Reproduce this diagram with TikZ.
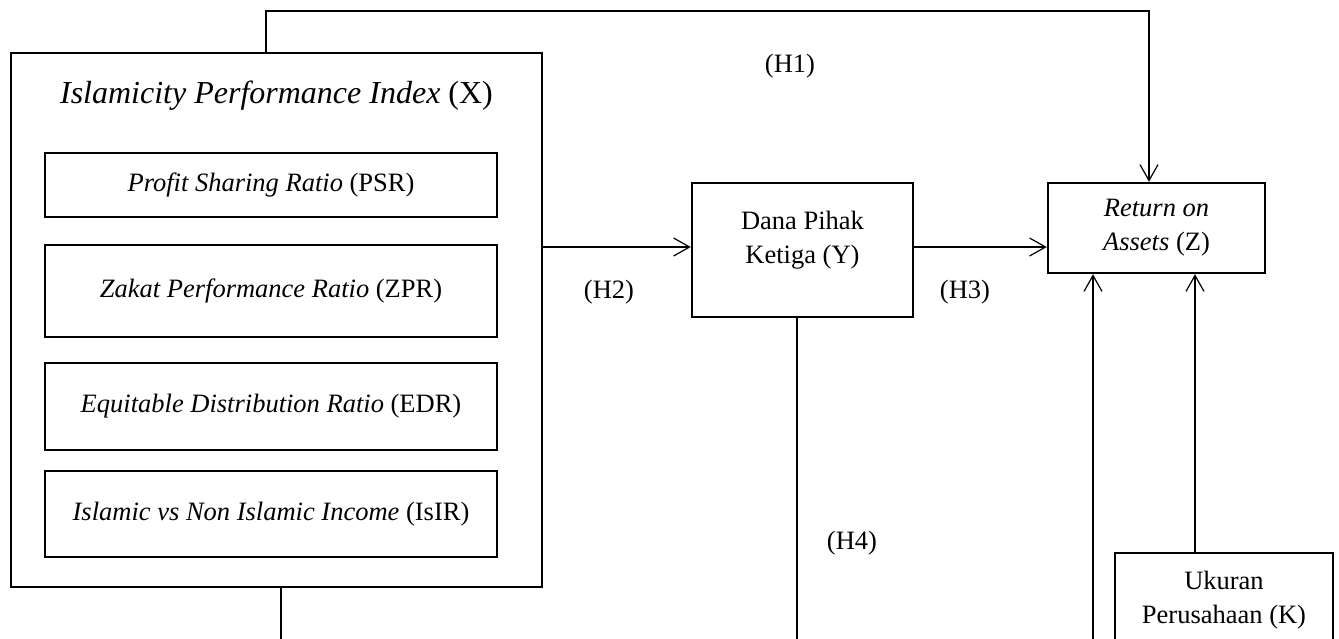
\documentclass[tikz,border=0pt]{standalone}
\usepackage{fontspec}
\setmainfont{Liberation Serif}
\usetikzlibrary{arrows.meta}

\tikzset{
  box/.style={draw, line width=2.4pt, inner sep=0pt},
  txt/.style={font=\fontsize{26.5}{34}\selectfont, align=center},
  conn/.style={line width=1.2pt},
  arr/.style={conn, -{Straight Barb[length=16pt,width=18pt,line width=1.2pt]}}
}

\begin{document}
\begin{tikzpicture}[x=1pt,y=-1pt]
    \clip (0,0) rectangle (1339,638);
    \node [box, minimum width=531pt, minimum height=534pt] (ipi) at (276.5,320) {};
    \node [txt, font=\fontsize{32}{38}\selectfont] (ipititle) at (276.5,96) {\textit{Islamicity Performance Index} (X)};
    \foreach \nm/\yc/\hgt/\lab in {psr/185/64/{\textit{Profit Sharing Ratio} (PSR)},
                                 zpr/291/92/{\textit{Zakat Performance Ratio} (ZPR)},
                                 edr/406.5/87/{\textit{Equitable Distribution Ratio} (EDR)},
                                 isir/514/86/{\textit{Islamic vs Non Islamic Income} (IsIR)}}
    {   \node [box, txt, minimum width=452pt, minimum height=\hgt pt] (\nm) at (271,\yc) {\lab};
    }
    \node [box, minimum width=221pt, minimum height=134pt] (dpk) at (802.5,250) {};
    \node [txt] (dpktext) at (802.5,240) {Dana Pihak\\Ketiga (Y)};
    \node [box, txt, minimum width=217pt, minimum height=90pt] (roa) at (1156.5,228) {\textit{Return on}\\\textit{Assets} (Z)};
    \node [box, minimum width=218pt, minimum height=107pt] (uk) at (1224,606.5) {};
    \node [txt] (uktext) at (1224,600) {Ukuran\\Perusahaan (K)};
    \node [txt] (h1) at (790,66) {(H1)};
    \node [txt] (h2) at (609,292) {(H2)};
    \node [txt] (h3) at (965,292) {(H3)};
    \node [txt] (h4) at (852,543) {(H4)};
    \coordinate (topbend) at (1149,11);
    \coordinate (midline) at (0,247);
    \coordinate (xbot) at (281,660);
    \coordinate (ybot) at (797,660);
    \coordinate (zbot) at (1093,660);
    \coordinate (kx) at (1195,0);
    \draw [arr] ([xshift=-10.5pt]ipi.north) |- (topbend) -- (roa.north -| topbend);
    \draw [arr] (ipi.east |- midline) -- (dpk.west |- midline);
    \draw [arr] (dpk.east |- midline) -- (roa.west |- midline);
    \draw [conn] (ipi.south -| xbot) -- (xbot);
    \draw [conn] (dpk.south -| ybot) -- (ybot);
    \draw [arr] (zbot) -- (roa.south -| zbot);
    \draw [arr] (uk.north -| kx) -- (roa.south -| kx);
\end{tikzpicture}
\end{document}
